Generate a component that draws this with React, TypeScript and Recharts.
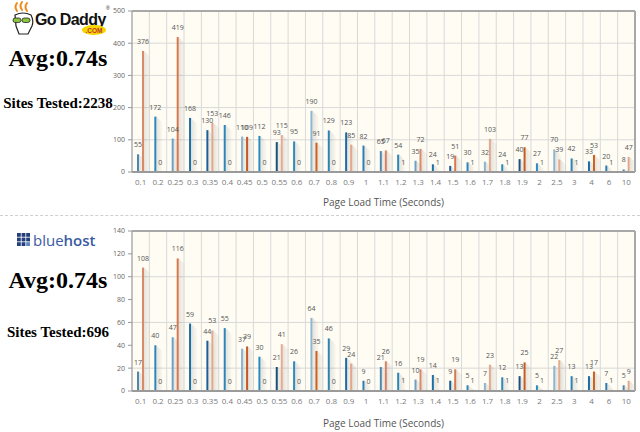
import { Bar, BarChart, CartesianGrid, Cell, LabelList, XAxis, YAxis } from 'recharts'

const loadTimes = ['0.1', '0.2', '0.25', '0.3', '0.35', '0.4', '0.45', '0.5', '0.55', '0.6', '0.7', '0.8', '0.9', '1', '1.1', '1.2', '1.3', '1.4', '1.5', '1.6', '1.7', '1.8', '1.9', '2', '2.5', '3', '4', '6', '10']

const godaddyBlue = [55, 172, 104, 168, 130, 146, 110, 112, 93, 95, 190, 129, 123, 82, 65, 54, 35, 24, 19, 30, 32, 24, 40, 27, 70, 42, 33, 20, 8]
const godaddyOrange = [376, 0, 419, 0, 153, 0, 109, 0, 115, 0, 91, 0, 85, 0, 67, 1, 72, 1, 51, 1, 103, 1, 77, 1, 39, 1, 53, 1, 47]
const godaddyTicks = [0, 100, 200, 300, 400, 500]

const bluehostBlue = [17, 40, 47, 59, 44, 55, 37, 30, 21, 26, 64, 46, 29, 9, 21, 16, 10, 14, 9, 5, 7, 12, 13, 5, 22, 13, 13, 7, 5]
const bluehostOrange = [108, 0, 116, 0, 53, 0, 39, 0, 41, 0, 35, 0, 24, 0, 26, 1, 19, 1, 19, 1, 23, 1, 25, 1, 27, 1, 17, 1, 9]
const bluehostTicks = [0, 20, 40, 60, 80, 100, 120, 140]

// per-bar shades, cycled
const BLUES = ['#4f88ae', '#2c86bc', '#6f9fc1', '#1e6fa6', '#1d5f98', '#2c84b9', '#8cb4cd', '#2a8abf', '#1a4f80', '#2d8bc0', '#8fb5cf', '#2f80b3', '#1c6ba7', '#2c7db5']
const ORANGES = ['#d98a6b', '#d6784f', '#e3a88e', '#c55b22', '#e3ab92', '#cf601b', '#e2a88f', '#d88063']

const FONT = '"Open Sans", "DejaVu Sans", sans-serif'

function ShadowBar(props: any) {
  const { x, y, width, height, color } = props
  if (!height || height <= 0) return null
  const r = x + width
  const s = Math.min(6, height)
  return (
    <g>
      <polygon points={`${r},${y} ${r + 6},${y + s} ${r + 6},${y + height} ${r},${y + height}`} fill="url(#barShade)" />
      <rect x={x} y={y} width={width} height={height} fill={color} />
    </g>
  )
}

interface LoadChartProps {
  blue: number[]
  orange: number[]
  ticks: number[]
  height: number
  top: number
  bottomH: number
  titleOffset: number
}

function LoadChart({ blue, orange, ticks, height, top, bottomH, titleOffset }: LoadChartProps) {
  const data = loadTimes.map((t, i) => ({ t, a: blue[i], b: orange[i] }))
  const n = loadTimes.length
  const max = ticks[ticks.length - 1]

  return (
    <BarChart width={540} height={height} data={data} barGap={3} margin={{ top, right: 0, left: 0, bottom: 0 }}>
      <defs>
        <linearGradient id="barShade" x1="0" y1="0" x2="1" y2="0">
          <stop offset="0%" stopColor="#000" stopOpacity={0.1} />
          <stop offset="100%" stopColor="#000" stopOpacity={0.015} />
        </linearGradient>
      </defs>
      <CartesianGrid
        stroke="#d9d9d9"
        fill="#fefcf3"
        fillOpacity={1}
        verticalCoordinatesGenerator={({ offset }: any) =>
          Array.from({ length: n + 1 }, (_, i) => offset.left + (i * offset.width) / n)
        }
      />
      <XAxis
        xAxisId="frame"
        orientation="top"
        dataKey="t"
        height={1}
        tick={false}
        tickLine={false}
        axisLine={{ stroke: '#a8a8a8', strokeWidth: 2 }}
      />
      <XAxis
        dataKey="t"
        interval={0}
        height={bottomH}
        tickSize={4}
        tickMargin={3}
        tickLine={false}
        tick={{ fontSize: 8, fill: '#7a7a7a', fontFamily: FONT }}
        axisLine={{ stroke: '#9a9a9a', strokeWidth: 2 }}
        label={{ value: 'Page Load Time (Seconds)', position: 'insideBottom', offset: titleOffset, fontSize: 10, fill: '#555', fontFamily: FONT }}
      />
      <YAxis
        width={32}
        domain={[0, max]}
        ticks={ticks}
        tickSize={4}
        tickMargin={3}
        tick={{ fontSize: 7, fill: '#666', fontFamily: FONT }}
        tickLine={{ stroke: '#999' }}
        axisLine={{ stroke: '#999' }}
      />
      <YAxis yAxisId="frame" orientation="right" width={5} tick={false} tickLine={false} axisLine={{ stroke: '#a8a8a8', strokeWidth: 2 }} />
      <Bar
        dataKey="a"
        barSize={2}
        isAnimationActive={false}
        shape={(p: any) => <ShadowBar {...p} color={BLUES[p.index % BLUES.length]} />}
      >
        {data.map((_, i) => (
          <Cell key={i} fill={BLUES[i % BLUES.length]} />
        ))}
        <LabelList dataKey="a" position="top" offset={7} fontSize={7} fill="#555" fontFamily={FONT} />
      </Bar>
      <Bar
        dataKey="b"
        barSize={2}
        isAnimationActive={false}
        shape={(p: any) => <ShadowBar {...p} color={ORANGES[Math.floor(p.index / 2) % ORANGES.length]} />}
      >
        {data.map((_, i) => (
          <Cell key={i} fill={ORANGES[Math.floor(i / 2) % ORANGES.length]} />
        ))}
        <LabelList dataKey="b" position="top" offset={7} fontSize={7} fill="#555" fontFamily={FONT} />
      </Bar>
    </BarChart>
  )
}

function GoDaddyLogo() {
  return (
    <svg width={115} height={40} style={{ position: 'absolute', left: 4, top: 0 }}>
      <g stroke="#f08a1c" strokeWidth={2} fill="none" strokeLinecap="round">
        <path d="M13 11 q-3 -4 0 -8" />
        <path d="M18 10 q-3 -4 0 -8" />
        <path d="M23 11 q-3 -4 0 -8" />
      </g>
      <path d="M11 15 q8 -4 16 0 q3 6 1 11 l-4 8 h-9 l-3 -8 z" fill="#fff" stroke="#222" strokeWidth={1.2} />
      <rect x={9} y={18} width={8} height={4.5} rx={2.2} fill="#8bc53f" stroke="#222" strokeWidth={0.8} />
      <rect x={18} y={18} width={8} height={4.5} rx={2.2} fill="#8bc53f" stroke="#222" strokeWidth={0.8} />
      <text x={31} y={25} fontFamily='"Liberation Sans", sans-serif' fontWeight="bold" fontSize={16} fill="#111" letterSpacing={-0.6}>
        Go Daddy
      </text>
      <text x={102} y={10} fontSize={5} fill="#111" fontFamily="sans-serif">®</text>
      <ellipse cx={90} cy={30} rx={12} ry={5} fill="#f6d500" />
      <text x={90} y={32.5} textAnchor="middle" fontFamily='"Liberation Sans", sans-serif' fontWeight="bold" fontSize={6.5} fill="#c0392b">
        .COM
      </text>
    </svg>
  )
}

function BluehostLogo() {
  const cells = [0, 1, 2]
  return (
    <svg width={110} height={24} style={{ position: 'absolute', left: 14, top: 229 }}>
      {cells.map((r) =>
        cells.map((c) => (
          <rect key={`${r}-${c}`} x={3 + c * 4.6} y={4 + r * 4.6} width={3.8} height={3.8} fill={r === 2 && c === 2 ? '#5f86c4' : '#253f7d'} />
        )),
      )}
      <text x={19} y={17} fontFamily={FONT} fontSize={15} fill="#3a5aa3">
        blue<tspan fontWeight={600}>host</tspan>
      </text>
    </svg>
  )
}

const textBlock = (top: number, size: number): React.CSSProperties => ({
  position: 'absolute',
  left: 0,
  width: 116,
  top,
  textAlign: 'center',
  fontFamily: '"Liberation Serif", "Times New Roman", serif',
  fontWeight: 'bold',
  fontSize: size,
  lineHeight: 1,
  color: '#000',
  whiteSpace: 'nowrap',
})

export default function App() {
  return (
    <div style={{ position: 'fixed', left: 0, top: 0, width: 640, height: 432, background: '#fff', overflow: 'hidden' }}>
      <GoDaddyLogo />
      <div style={textBlock(46, 24)}>Avg:0.74s</div>
      <div style={textBlock(96, 15)}>Sites Tested:2238</div>

      <div style={{ position: 'absolute', left: 0, top: 215, width: 640, borderTop: '1px dashed #cfcfcf' }} />

      <BluehostLogo />
      <div style={textBlock(268, 24)}>Avg:0.74s</div>
      <div style={textBlock(325, 15)}>Sites Tested:696</div>

      <div style={{ position: 'absolute', left: 100, top: 0 }}>
        <LoadChart blue={godaddyBlue} orange={godaddyOrange} ticks={godaddyTicks} height={215} top={10} bottomH={43} titleOffset={9} />
      </div>
      <div style={{ position: 'absolute', left: 100, top: 215 }}>
        <LoadChart blue={bluehostBlue} orange={bluehostOrange} ticks={bluehostTicks} height={217} top={15} bottomH={41} titleOffset={5} />
      </div>
    </div>
  )
}
